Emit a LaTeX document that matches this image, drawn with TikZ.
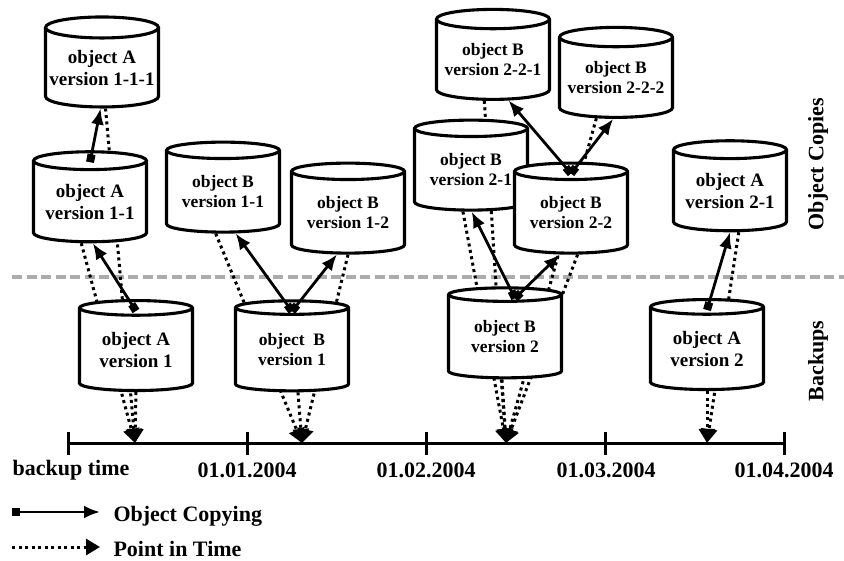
\documentclass[tikz,border=0pt]{standalone}
\usepackage{fontspec}
\setmainfont{Liberation Serif}
\usetikzlibrary{shapes.geometric,arrows.meta}
\pgfdeclarelayer{background}
\pgfsetlayers{background,main}

\tikzset{
  store/.style={cylinder, shape border rotate=90, aspect=0.2, draw, fill=white,
    line width=3.1pt, minimum width=113pt, minimum height=90pt, inner sep=0pt, align=center},
  storea/.style={store, font=\fontsize{19}{22}\selectfont\bfseries},
  storeb/.style={store, font=\fontsize{17.5}{20}\selectfont\bfseries},
  copyarrow/.style={line width=2.8pt, {Square[length=8pt,width=8pt]}-{Latex[length=16pt,width=13pt]}},
  timearrow/.style={line width=3pt, dash pattern=on 3pt off 3.5pt, -{Triangle[length=14pt,width=16pt]}},
  lbl/.style={font=\fontsize{22}{24}\selectfont\bfseries}
}

\begin{document}
\begin{tikzpicture}[x=1pt,y=-1pt]
\useasboundingbox (0,0) rectangle (844,561);
%%%%%%%%%%%%%%%% object copies
\node[storea] (av111) at (102,68) {object A\\version 1-1-1};
\node[storea] (av11) at (90,202) {object A\\version 1-1};
\node[storeb] (bv11) at (223,192) {object B\\version 1-1};
\node[storeb] (bv12) at (348,213) {object B\\version 1-2};
\node[storeb] (bv221) at (493,60) {object B\\version 2-2-1};
\node[storeb] (bv222) at (616,78) {object B\\version 2-2-2};
\node[storeb] (bv21) at (471,170) {object B\\version 2-1};
\node[storeb] (bv22) at (571,213) {object B\\version 2-2};
\node[storea] (av21) at (730,191) {object A\\version 2-1};
%%%%%%%%%%%%%%%% backups
\node[storea] (av1) at (136,350) {object A\\version 1};
\node[storeb] (bv1) at (292,350) {object\ \ B\\version 1};
\node[storeb] (bv2) at (505,337) {object B\\version 2};
\node[storea] (av2) at (707,349) {object A\\version 2};
%%%%%%%%%%%%%%%% side labels
\node[lbl,rotate=90] (copies) at (818,164) {Object Copies};
\node[lbl,rotate=90] (backups) at (818,361) {Backups};
%%%%%%%%%%%%%%%% time line
\coordinate (tl0) at (68,443);
\coordinate (tl4) at (784,443);
\coordinate (t1) at (135,443);
\coordinate (t2) at (302,443);
\coordinate (t3) at (506,443);
\coordinate (t4) at (707,443);
\node[lbl] (d0) at (71,470) {backup time};
\node[lbl] (d1) at (247,470) {01.01.2004};
\node[lbl] (d2) at (426,470) {01.02.2004};
\node[lbl] (d3) at (606,470) {01.03.2004};
\node[lbl] (d4) at (784,470) {01.04.2004};
\begin{pgfonlayer}{background}
\draw[gray!65,line width=4.5pt,dash pattern=on 10pt off 4.5pt] (12,277) -- (844,277);
\draw[line width=3pt] (tl0) -- (tl4);
\foreach \x in {68,247,426,605,784}
  \draw[line width=3pt] (\x,432) -- (\x,455);
%%%%%%%%%%%%%%%% points in time
\draw[timearrow] (av111.-85) -- (t1);
\draw[timearrow] (av11.-102) -- (t1);
\draw[timearrow] (av1.-90) -- (t1);
\draw[timearrow] (bv11.-100) -- (t2);
\draw[timearrow] (bv12.-90) -- (t2);
\draw[timearrow] (bv1.-82) -- (t2);
\draw[timearrow] (bv21.-101) -- (t3);
\draw[timearrow] (bv221.-102) -- (t3);
\draw[timearrow] (bv222.-116) -- (t3);
\draw[timearrow] (bv22.-81) -- (t3);
\draw[timearrow] (bv2.-95) -- (t3);
\draw[timearrow] (av21.-78) -- (t4);
\draw[timearrow] (av2.-90) -- (t4);
\end{pgfonlayer}
%%%%%%%%%%%%%%%% object copying
\draw[copyarrow] ([yshift=-12pt]av1.north) -- (av11.-86);
\draw[copyarrow] ([yshift=-12pt]av11.north) -- (av111.-92);
\draw[copyarrow] ([yshift=-12pt]bv1.north) -- (bv11.-73);
\draw[copyarrow] ([yshift=-12pt]bv1.north) -- (bv12.-105);
\draw[copyarrow] ([xshift=10pt,yshift=-12pt]bv2.north) -- (bv21.-89);
\draw[copyarrow] ([xshift=10pt,yshift=-12pt]bv2.north) -- (bv22.-105);
\draw[copyarrow] ([yshift=-12pt]bv22.north) -- (bv221.-69);
\draw[copyarrow] ([yshift=-12pt]bv22.north) -- (bv222.-94);
\draw[copyarrow] ([yshift=-12pt]av2.north) -- (av21.-90);
%%%%%%%%%%%%%%%% legend
\coordinate (lc0) at (12,512);
\coordinate (lc1) at (100,512);
\coordinate (lp0) at (12,547);
\coordinate (lp1) at (100,547);
\draw[copyarrow] (lc0) -- (lc1);
\draw[timearrow] (lp0) -- (lp1);
\node[lbl,anchor=west] (lcopy) at (110,516) {Object Copying};
\node[lbl,anchor=west] (lpoint) at (110,549) {Point in Time};
\end{tikzpicture}
\end{document}
